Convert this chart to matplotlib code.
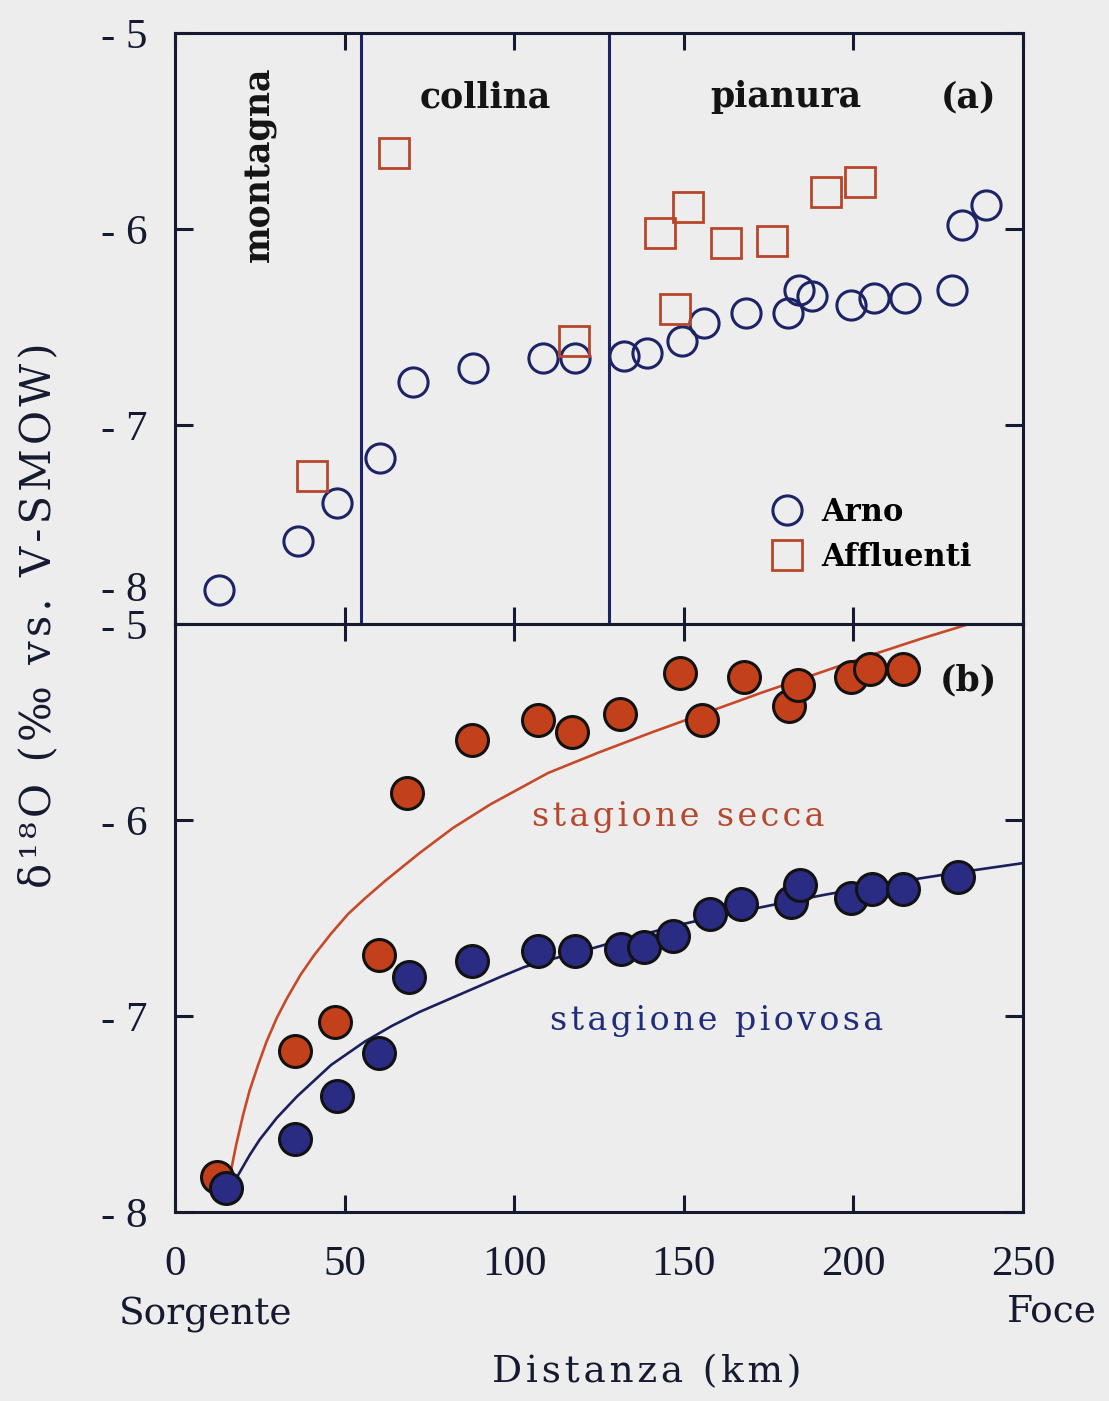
"""Arno river d18O profile: tributaries vs main stem (a) and seasonal fits (b)."""

import matplotlib

matplotlib.use("Agg")

import matplotlib.pyplot as plt
import matplotlib.transforms as mtransforms
from matplotlib.lines import Line2D

# ---- data ----
arno_km = [12.9, 36.2, 47.7, 60.4, 70.1, 87.9, 108.5, 117.8, 132.5, 139.2, 149.4,
           156.1, 168.4, 180.8, 184.0, 187.9, 199.4, 206.1, 215.1, 229.1, 232.0, 239.0]
arno_d18o = [-7.84, -7.59, -7.40, -7.17, -6.78, -6.71, -6.66, -6.66, -6.65, -6.63, -6.57,
             -6.48, -6.43, -6.43, -6.31, -6.34, -6.39, -6.35, -6.35, -6.31, -5.98, -5.88]

affluenti_km = [40.3, 64.5, 117.5, 143.1, 147.5, 151.1, 162.5, 176.1, 192.0, 202.0]
affluenti_d18o = [-7.26, -5.61, -6.57, -6.02, -6.41, -5.89, -6.07, -6.06, -5.81, -5.76]

secca_km = [12.4, 35.3, 47.3, 60.1, 68.4, 87.7, 107.1, 117.1, 131.1, 148.9, 155.3,
            167.7, 181.0, 183.6, 199.4, 205.0, 214.5]
secca_d18o = [-7.82, -7.18, -7.03, -6.69, -5.86, -5.59, -5.49, -5.55, -5.46, -5.25, -5.49,
              -5.27, -5.42, -5.31, -5.27, -5.23, -5.23]

piovosa_km = [14.9, 35.3, 47.9, 60.1, 68.9, 87.5, 107.1, 117.9, 131.6, 138.4, 146.8,
              157.7, 166.8, 181.5, 184.2, 199.2, 205.4, 214.6, 230.8]
piovosa_d18o = [-7.88, -7.63, -7.41, -7.19, -6.80, -6.72, -6.67, -6.67, -6.66, -6.65, -6.59,
                -6.48, -6.43, -6.42, -6.33, -6.40, -6.35, -6.35, -6.29]

# fitted curves
secca_fit_km = [15.5, 16.5, 18, 20, 22, 24.5, 27, 30, 33, 37, 41, 46, 51, 56, 62, 67, 72,
                82, 93, 110, 125, 141, 157, 173, 189, 205, 220, 236]
secca_fit_d18o = [-7.88, -7.79, -7.66, -7.51, -7.38, -7.25, -7.13, -7.01, -6.91, -6.79,
                  -6.69, -6.58, -6.48, -6.40, -6.31, -6.24, -6.17, -6.04, -5.92, -5.76,
                  -5.655, -5.55, -5.45, -5.35, -5.255, -5.16, -5.075, -4.99]
piovosa_fit_km = [15.5, 17, 19, 22, 25, 30, 36, 41, 46, 51, 56, 64, 72, 80, 88, 96, 103,
                  111, 120, 130, 141, 150, 160, 170, 180, 192, 205, 217, 230, 240, 250]
piovosa_fit_d18o = [-7.91, -7.86, -7.80, -7.71, -7.63, -7.52, -7.41, -7.33, -7.25, -7.19,
                    -7.13, -7.05, -6.98, -6.92, -6.86, -6.80, -6.75, -6.71, -6.67, -6.62,
                    -6.57, -6.53, -6.49, -6.455, -6.42, -6.38, -6.34, -6.305, -6.27,
                    -6.245, -6.22]

zone_limits_km = [54.8, 128.0]
zone_names = ["montagna", "collina", "pianura"]

x_ticks = [0, 50, 100, 150, 200, 250]
y_ticks = [-5, -6, -7, -8]

# ---- style ----
BG = "#ededed"
INK = "#161a30"
NAVY = "#1d2466"
BLUE_FILL = "#2a2c84"
RED_EDGE = "#b8462a"
RED_FILL = "#c2401a"
RED_TEXT = "#b5482e"
BLUE_TEXT = "#1f2d7a"

SERIF = ["DejaVu Serif"]
NUMS = ["Liberation Serif", "DejaVu Serif"]
HAIR = "\u200a"


def track(s, n=1):
    """Crude letter spacing with hair spaces."""
    return (HAIR * n).join(s)


plt.rcParams["font.family"] = SERIF

fig = plt.figure(figsize=(11.09, 14.01), dpi=100, facecolor=BG)
left, right = 175 / 1109, 1023 / 1109
y_mid = 1 - 624 / 1401
ax_a = fig.add_axes([left, y_mid, right - left, (1 - 33 / 1401) - y_mid])
ax_b = fig.add_axes([left, 1 - 1212 / 1401, right - left, y_mid - (1 - 1212 / 1401)])


def style_axes(ax):
    ax.set_facecolor(BG)
    for sp in ax.spines.values():
        sp.set_linewidth(2.2)
        sp.set_color(INK)
    ax.tick_params(axis="both", direction="in", top=True, right=True, colors=INK,
                   width=2.2)
    ax.tick_params(axis="x", length=12)
    ax.tick_params(axis="y", length=13)
    ax.set_xlim(0, 250)
    ax.set_xticks(x_ticks)


style_axes(ax_a)
style_axes(ax_b)

# ---- panel (a) ----
ax_a.set_ylim(-8.015, -5)
top_tick_pos = [-5, -6, -7, -7.82]
ax_a.set_yticks(top_tick_pos, [f"- {abs(v)}" for v in y_ticks])
last = ax_a.yaxis.get_major_ticks()[-1]
last.tick1line.set_visible(False)
last.tick2line.set_visible(False)
ax_a.tick_params(axis="x", labelbottom=False)

for xl in zone_limits_km:
    ax_a.axvline(xl, color=NAVY, lw=2.2, zorder=1)

label_kw = dict(fontsize=25, fontweight="bold", color="#141414")
ax_a.text(25, -5.67, zone_names[0], rotation=90, ha="center", va="center", **label_kw)
ax_a.text(91.6, -5.38, zone_names[1], ha="center", va="baseline", **label_kw)
ax_a.text(180, -5.38, zone_names[2], ha="center", va="baseline", **label_kw)
ax_a.text(233.8, -5.38, "(a)", ha="center", va="baseline", **label_kw)

ax_a.plot(arno_km, arno_d18o, ls="none", marker="o", ms=21, mfc="none", mec=NAVY,
          mew=2.2, zorder=3)
ax_a.plot(affluenti_km, affluenti_d18o, ls="none", marker="s", ms=22, mfc="none",
          mec=RED_EDGE, mew=2.0, zorder=4)

handles = [
    Line2D([], [], ls="none", marker="o", ms=21, mfc="none", mec=NAVY, mew=2.2),
    Line2D([], [], ls="none", marker="s", ms=22, mfc="none", mec=RED_EDGE, mew=2.0),
]
ax_a.legend(handles, ["Arno", "Affluenti"], loc="upper left", bbox_to_anchor=(0.704, 0.215),
            frameon=False, borderpad=0, borderaxespad=0, handlelength=1.0,
            handletextpad=0.6, labelspacing=0.45, prop={"family": SERIF, "size": 22,
                                                        "weight": "bold"})

# ---- panel (b) ----
ax_b.set_ylim(-8, -5)
ax_b.set_yticks(y_ticks, [f"- {abs(v)}" for v in y_ticks])
ax_b.set_xticklabels([str(v) for v in x_ticks])

ax_b.plot(secca_fit_km, secca_fit_d18o, color="#c54a2a", lw=1.9, zorder=2)
ax_b.plot(piovosa_fit_km, piovosa_fit_d18o, color="#1b1f5c", lw=1.9, zorder=2)
ax_b.plot(secca_km, secca_d18o, ls="none", marker="o", ms=23, mfc=RED_FILL, mec="#121212",
          mew=2.2, zorder=3)
ax_b.plot(piovosa_km, piovosa_d18o, ls="none", marker="o", ms=23, mfc=BLUE_FILL,
          mec="#121212", mew=2.2, zorder=4)

ax_b.text(148.4, -6.03, track("stagione secca"), ha="center", va="baseline",
          fontsize=24, color=RED_TEXT)
ax_b.text(159.6, -7.07, track("stagione piovosa"), ha="center", va="baseline",
          fontsize=24, color=BLUE_TEXT)
ax_b.text(234, -5.34, "(b)", ha="center", va="baseline", **label_kw)

for ax in (ax_a, ax_b):
    for lab in ax.get_yticklabels() + ax.get_xticklabels():
        lab.set_family(NUMS)
        lab.set_fontsize(31)
        lab.set_fontweight("normal")
        lab.set_color(INK)
    ax.tick_params(axis="y", pad=20)
    ax.tick_params(axis="x", pad=24)

trans = mtransforms.blended_transform_factory(ax_b.transData, ax_b.transAxes)
ax_b.text(8.9, -0.175, "Sorgente", transform=trans, ha="center", va="center",
          fontsize=27, color=INK)
ax_b.text(258.4, -0.17, "Foce", transform=trans, ha="center", va="center",
          fontsize=27, color=INK, clip_on=False)
ax_b.text(139, -0.272, track("Distanza (km)"), transform=trans, ha="center",
          va="center", fontsize=27, color=INK)

fig.text(38 / 1109, 1 - 615 / 1401, track("δ¹⁸O (‰ vs. V-SMOW)"), rotation=90,
         ha="center", va="center", fontsize=30, color=INK)

fig.savefig("out.png", dpi=100, facecolor=BG)
